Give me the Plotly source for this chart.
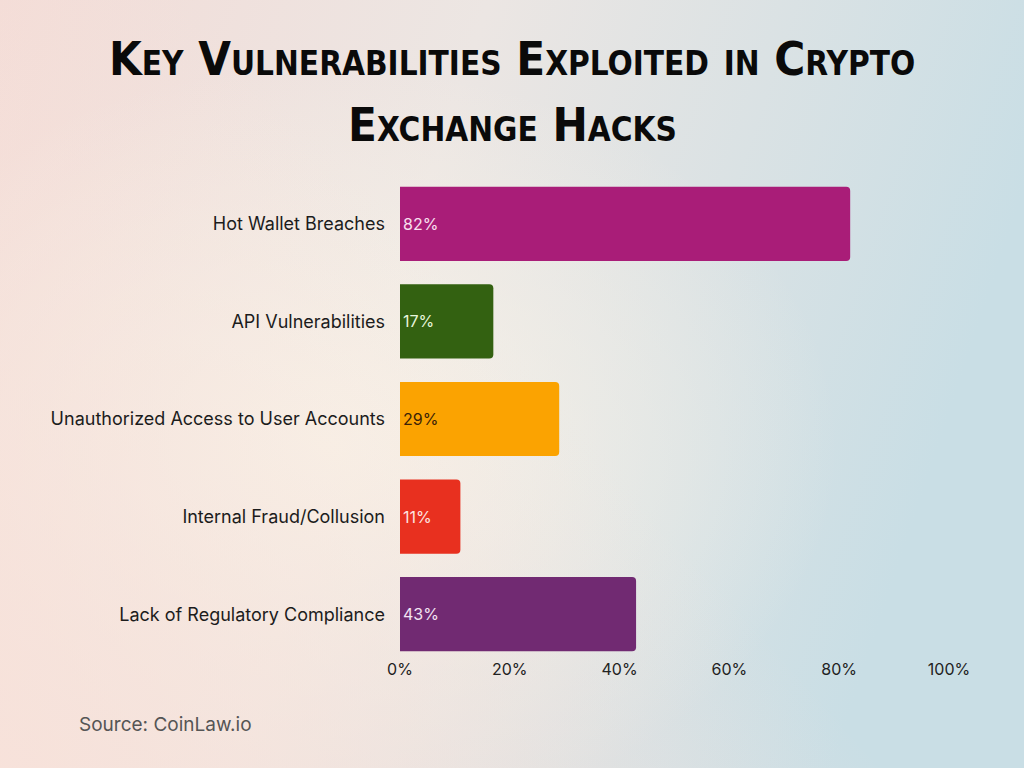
import base64
import plotly.graph_objects as go

categories = ["Hot Wallet Breaches", "API Vulnerabilities", "Unauthorized Access to User Accounts",
              "Internal Fraud/Collusion", "Lack of Regulatory Compliance"]
values = [82, 17, 29, 11, 43]
bar_colors = ["#a91d78", "#336111", "#fba301", "#e8301f", "#712a72"]
text_colors = ["#f9e0f0", "#e8f6dc", "#3a2208", "#fde4e0", "#f3e4f3"]
x_ticks = [0, 20, 40, 60, 80, 100]

W, H = 1024, 768
ML, MR, MT, MB = 400, 75, 175, 105
plot_h = H - MT - MB

def py(pix):
    return (H - MB - pix) / plot_h

def px(pix):
    return (pix - ML) / (W - ML - MR)

svg = f"""<svg xmlns='http://www.w3.org/2000/svg' width='{W}' height='{H}' viewBox='0 0 {W} {H}' preserveAspectRatio='none'>
<defs>
<linearGradient id='g' x1='0' y1='0' x2='1' y2='0.25'>
<stop offset='0' stop-color='#f3dcd7'/>
<stop offset='0.45' stop-color='#ece6e3'/>
<stop offset='1' stop-color='#c9dee5'/>
</linearGradient>
<radialGradient id='r' cx='0.32' cy='0.58' r='0.5'>
<stop offset='0' stop-color='#f8f2e8' stop-opacity='1'/>
<stop offset='1' stop-color='#f8f2e8' stop-opacity='0'/>
</radialGradient>
<linearGradient id='b' x1='0' y1='1' x2='0.6' y2='0.6'>
<stop offset='0' stop-color='#f8e2da' stop-opacity='0.9'/>
<stop offset='1' stop-color='#f8e2da' stop-opacity='0'/>
</linearGradient>
</defs>
<rect width='{W}' height='{H}' fill='url(#g)'/>
<rect width='{W}' height='{H}' fill='url(#r)'/>
<rect width='{W}' height='{H}' fill='url(#b)'/>
</svg>"""
bg_uri = "data:image/svg+xml;base64," + base64.b64encode(svg.encode()).decode()

TITLE_FONT = dict(family="DejaVu Sans Condensed", size=47, color="#0a0a0a",
                  weight="bold", variant="small-caps")

fig = go.Figure()
fig.add_trace(go.Bar(
    x=values, y=categories, orientation="h",
    marker=dict(color=bar_colors, line=dict(width=0), cornerradius=4),
    text=[f"{v}%" for v in values], texttemplate="%{text}",
    textposition="inside", insidetextanchor="start",
    textfont=dict(family="Inter, Lato, sans-serif", size=16, color=text_colors),
    hoverinfo="skip",
))

fig.update_layout(
    width=W, height=H,
    margin=dict(l=ML, r=MR, t=MT, b=MB, pad=0),
    paper_bgcolor="#efe8e4", plot_bgcolor="rgba(0,0,0,0)",
    bargap=0.24, showlegend=False,
    font=dict(family="Inter, Lato, sans-serif", color="#1c1c1c"),
    xaxis=dict(range=[0, 100], tickvals=x_ticks, ticktext=[f"{t}%" for t in x_ticks],
               showgrid=False, zeroline=False, showline=False,
               tickfont=dict(size=16, color="#222222"), ticklabelstandoff=-5),
    yaxis=dict(autorange="reversed", showgrid=False, zeroline=False, showline=False,
               tickfont=dict(size=18, color="#1c1c1c"), ticklabelstandoff=14),
    images=[dict(source=bg_uri, xref="paper", yref="paper",
                 x=px(0), y=py(0), sizex=W / (W - ML - MR), sizey=H / plot_h,
                 xanchor="left", yanchor="top", sizing="stretch", layer="below")],
    annotations=[
        dict(text="Key Vulnerabilities Exploited in Crypto", x=px(W / 2), xref="paper",
             y=py(58), yref="paper", xanchor="center", yanchor="middle", showarrow=False,
             font=TITLE_FONT),
        dict(text="Exchange Hacks", x=px(W / 2), xref="paper",
             y=py(125), yref="paper", xanchor="center", yanchor="middle", showarrow=False,
             font=TITLE_FONT),
        dict(text="Source: CoinLaw.io", x=px(77), xref="paper", y=py(724), yref="paper",
             xanchor="left", yanchor="middle", showarrow=False,
             font=dict(family="Inter, Lato, sans-serif", size=19, color="#555555")),
    ],
)

fig.write_html("out.html", config={"displayModeBar": False},
               post_script="document.body.style.margin='0';")
